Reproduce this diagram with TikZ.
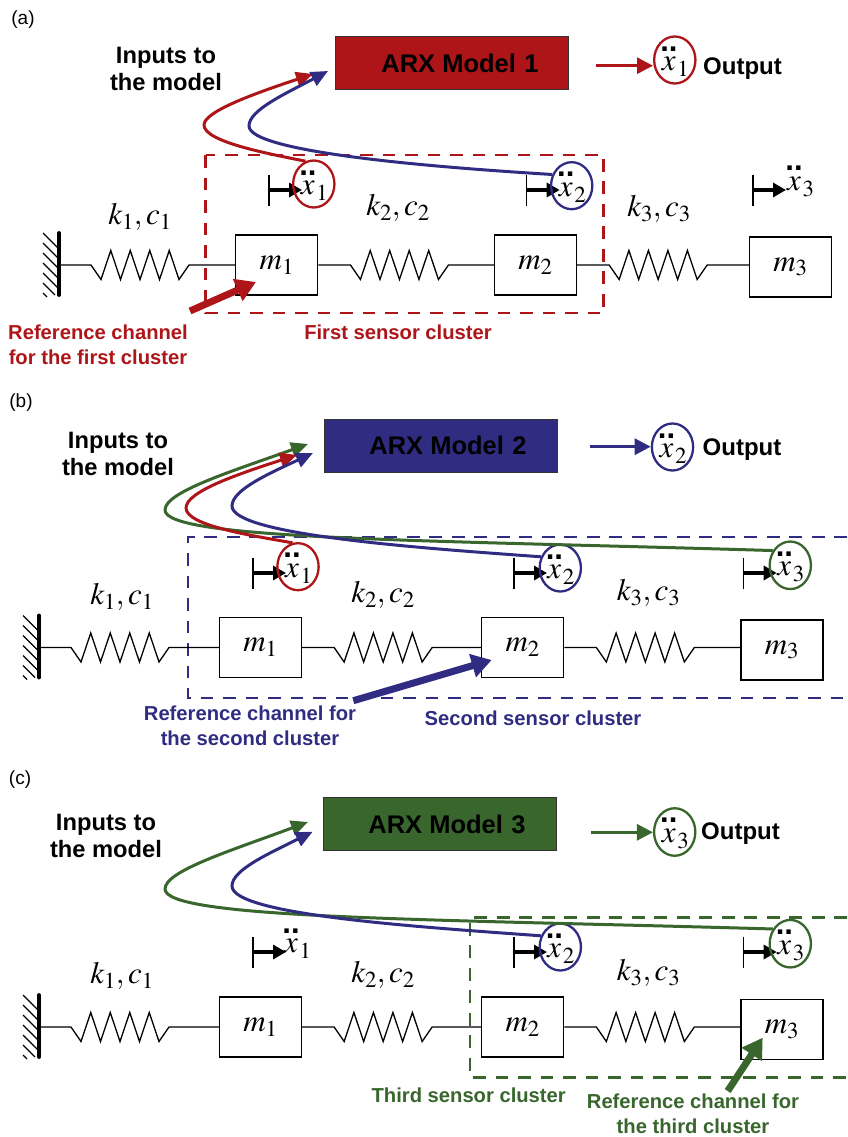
\documentclass[tikz,border=0pt]{standalone}
\usepackage{mathptmx}
\usepackage[no-math]{fontspec}
\setmainfont{Liberation Sans}
\usepackage{xcolor}
\usetikzlibrary{arrows.meta,positioning,shapes.geometric}
\definecolor{redm}{HTML}{AE1519}
\definecolor{bluem}{HTML}{302C82}
\definecolor{greenm}{HTML}{38662C}
\newcommand{\acc}[1]{$\stackrel{\textbf{..}}{x}_{#1}$}
\newcommand{\kc}[1]{$k_{#1}{,}\,c_{#1}$}
\newcommand{\fsz}[1]{\fontsize{#1}{#1}\selectfont}
\newcommand{\arxlabel}[2]{\hspace*{#1}\raisebox{-2pt}{ARX Model\,\,#2}}
\tikzset{
    massbox/.style={draw,line width=1.3pt,minimum width=82pt,minimum height=60pt,inner sep=0pt,font=\fsz{31}},
    modelbox/.style={draw=black!80,line width=1pt,minimum width=233pt,minimum height=53pt,inner sep=0pt,font=\bfseries\fsz{25.5}},
    inputs/.style={align=center,inner sep=0pt,font=\bfseries\fontsize{23.7}{27.5}\selectfont},
    outtext/.style={inner sep=0pt,font=\bfseries\fsz{24}},
    paneltag/.style={inner sep=0pt,font=\fsz{19}},
    reftext/.style={align=center,inner sep=0pt,font=\bfseries\fontsize{20.2}{25}\selectfont},
    sym/.style={font=\fsz{31},inner sep=0pt},
    sensor/.style={ellipse,draw,line width=2.3pt,minimum width=41pt,minimum height=47pt,inner sep=0pt,font=\fsz{31}},
    feed/.style={line width=3pt,-{Triangle[length=17pt,width=15pt]}},
    outarrow/.style={line width=3pt,-{Triangle[length=16pt,width=16pt]}},
    refarrow/.style={line width=7pt,-{Triangle[length=20pt,width=23pt]}},
    motion/.style={line width=3.6pt,-{Triangle[length=13pt,width=14pt]}},
    cluster/.style={line width=2.9pt,dash pattern=on 12.7pt off 9.8pt},
}
% wall, spring and displacement marks
\newcommand{\wallmark}[1]{
    \draw[line width=3.8pt,line cap=round] (#1) ++(0,-32) -- ++(0,62);
    \foreach \d/\l in {0/16,10/16,20/16,30/16,40/16,50/12,60/4}
        \draw[line width=1.1pt] (#1) ++(-16,-32+\d) -- ++(\l,\l);
}
\newcommand{\springlink}[2]{
    \draw[line width=1.3pt] (#1) -- ++(32,0) -- ++(10,14.5)
        \foreach \s in {-29,29,-29,29,-29,29,-29,29}{ -- ++(9.75,\s)}
        -- ++(10,-14.5) -- (#1 -| #2.west);
}
\newcommand{\dispmark}[1]{
    \draw[line width=1.2pt] (#1) ++(0,-15.5) -- ++(0,31);
    \draw[motion] (#1) -- ++(33,0);
}

\begin{document}
\begin{tikzpicture}[x=1pt,y=-1pt]
    \useasboundingbox (0,0) rectangle (847,1137);

    % Panel (a): first cluster
    \begin{scope}
    \node[paneltag] (taga) at (23,20) {(a)};
    \node[inputs] (inputsa) at (166,69) {Inputs to\\the model};
    \node[modelbox,fill=redm] (arxa) at (452,63) {\arxlabel{16pt}{1}};
    \node[sensor,draw=redm] (outa) at (674.8,60) {\acc{1}};
    \node[outtext] (outtexta) at (742.5,69) {Output};
    \coordinate (outsa) at (596,65.7);
    \draw[outarrow,redm] (outsa) -- (outsa -| outa.west);

    \draw[cluster,redm] (205.6,155) rectangle (603.7,313);

    \node[massbox] (m1a) at (276.8,265) {$m_1$};
    \node[massbox] (m2a) at (535.5,265) {$m_2$};
    \node[massbox] (m3a) at (790.5,267) {$m_3$};
    \coordinate (wa) at (59,265);
    \wallmark{wa}
    \springlink{wa}{m1a}
    \springlink{m1a.east}{m2a}
    \springlink{m2a.east}{m3a}
    \node[sym] (ka1) at (140,217) {\kc{1}};
    \node[sym] (ka2) at (398,208) {\kc{2}};
    \node[sym] (ka3) at (659,209) {\kc{3}};

    \coordinate (da1) at (269,190);
    \coordinate (da2) at (526.7,190);
    \coordinate (da3) at (753,190);
    \dispmark{da1}
    \dispmark{da2}
    \dispmark{da3}
    \node[sensor,draw=redm] (x1a) at (313.8,184) {\acc{1}};
    \node[sensor,draw=bluem] (x2a) at (571.7,185.7) {\acc{2}};
    \node[sym] (x3a) at (800,180) {\acc{3}};

    \coordinate (tipra) at (313,74);
    \coordinate (tipba) at (328,71);
    \draw[feed,redm] (x1a.110) .. controls (270,154) and (204,142) .. (204,125)
        .. controls (204,112) and (250,95) .. (tipra);
    \draw[feed,bluem] (x2a.150) .. controls (430,167) and (249,152) .. (249,126)
        .. controls (249,110) and (285,94) .. (tipba);

    \coordinate (refsa) at (190,311);
    \coordinate (reftipa) at (256,282);
    \draw[refarrow,redm] (refsa) -- (reftipa);
    \node[reftext,text=redm] (refa) at (98,345) {Reference channel\\for the first cluster};
    \node[reftext,text=redm] (clustera) at (398,332) {First sensor cluster};
    \end{scope}

    % Panel (b): second cluster
    \begin{scope}[yshift=-380pt]
    \node[paneltag] (tagb) at (21,23) {(b)};
    \node[inputs] (inputsb) at (118,74) {Inputs to\\the model};
    \node[modelbox,fill=bluem] (arxb) at (441,65.5) {\arxlabel{14pt}{2}};
    \node[sensor,draw=bluem] (outb) at (672.5,67) {\acc{2}};
    \node[outtext] (outtextb) at (742,70) {Output};
    \coordinate (outsb) at (590,66.7);
    \draw[outarrow,bluem] (outsb) -- (outsb -| outb.west);

    \draw[cluster,bluem] (847,157) -- (188,157) -- (188,318) -- (847,318);

    \node[massbox] (m1b) at (260.5,267.5) {$m_1$};
    \node[massbox] (m2b) at (522.7,267.5) {$m_2$};
    \node[massbox] (m3b) at (782,270) {$m_3$};
    \coordinate (wb) at (39,267.5);
    \wallmark{wb}
    \springlink{wb}{m1b}
    \springlink{m1b.east}{m2b}
    \springlink{m2b.east}{m3b}
    \node[sym] (kb1) at (122,217) {\kc{1}};
    \node[sym] (kb2) at (383,215) {\kc{2}};
    \node[sym] (kb3) at (648.7,213) {\kc{3}};

    \coordinate (db1) at (253,193);
    \coordinate (db2) at (514,193);
    \coordinate (db3) at (743.7,193);
    \dispmark{db1}
    \dispmark{db2}
    \dispmark{db3}
    \node[sensor,draw=redm] (x1b) at (298,186.7) {\acc{1}};
    \node[sensor,draw=bluem] (x2b) at (560.3,188) {\acc{2}};
    \node[sensor,draw=greenm] (x3b) at (790.3,185.3) {\acc{3}};

    \coordinate (tipgb) at (308,64);
    \coordinate (tiprb) at (297,75);
    \coordinate (tipbb) at (313,73);
    \draw[feed,greenm] (x3b.140) .. controls (430,160) and (165,160) .. (165,130)
        .. controls (165,112) and (230,92) .. (tipgb);
    \draw[feed,redm] (x1b.103) .. controls (255,156) and (186,146) .. (186,128)
        .. controls (186,112) and (235,95) .. (tiprb);
    \draw[feed,bluem] (x2b.150) .. controls (420,168) and (232,155) .. (232,126)
        .. controls (232,110) and (268,94) .. (tipbb);

    \coordinate (refsb) at (353.3,320.7);
    \coordinate (reftipb) at (491.7,280);
    \draw[refarrow,bluem] (refsb) -- (reftipb);
    \node[reftext,text=bluem] (refb) at (250,345.5) {Reference channel for\\the second cluster};
    \node[reftext,text=bluem] (clusterb) at (533,338) {Second sensor cluster};
    \end{scope}

    % Panel (c): third cluster
    \begin{scope}[yshift=-760pt]
    \node[paneltag] (tagc) at (20,20) {(c)};
    \node[inputs] (inputsc) at (106,76) {Inputs to\\the model};
    \node[modelbox,fill=greenm] (arxc) at (439.7,64.3) {\arxlabel{14.6pt}{3}};
    \node[sensor,draw=greenm] (outc) at (674.7,72) {\acc{3}};
    \node[outtext] (outtextc) at (740.5,74) {Output};
    \coordinate (outsc) at (591,72.3);
    \draw[outarrow,greenm] (outsc) -- (outsc -| outc.west);

    \draw[cluster,greenm] (847,157.3) -- (470,157.3) -- (470,317.3) -- (847,317.3);

    \node[massbox] (m1c) at (260.5,267) {$m_1$};
    \node[massbox] (m2c) at (522.7,267) {$m_2$};
    \node[massbox] (m3c) at (782,269.5) {$m_3$};
    \coordinate (wc) at (39,267);
    \wallmark{wc}
    \springlink{wc}{m1c}
    \springlink{m1c.east}{m2c}
    \springlink{m2c.east}{m3c}
    \node[sym] (kc1) at (122,216) {\kc{1}};
    \node[sym] (kc2) at (383,215) {\kc{2}};
    \node[sym] (kc3) at (648.7,213) {\kc{3}};

    \coordinate (dc1) at (253,192);
    \coordinate (dc2) at (514,192);
    \coordinate (dc3) at (743.7,192);
    \dispmark{dc1}
    \dispmark{dc2}
    \dispmark{dc3}
    \node[sym] (x1c) at (297,182) {\acc{1}};
    \node[sensor,draw=bluem] (x2c) at (560.3,187) {\acc{2}};
    \node[sensor,draw=greenm] (x3c) at (790.3,183.7) {\acc{3}};

    \coordinate (tipgc) at (308,62);
    \coordinate (tipbc) at (312.7,71.7);
    \draw[feed,greenm] (x3c.140) .. controls (430,159) and (165,159) .. (165,129)
        .. controls (165,111) and (230,91) .. (tipgc);
    \draw[feed,bluem] (x2c.150) .. controls (420,167) and (232,155) .. (232,126)
        .. controls (232,110) and (268,94) .. (tipbc);

    \coordinate (refsc) at (727.7,331);
    \coordinate (reftipc) at (762.7,277.7);
    \draw[refarrow,greenm] (refsc) -- (reftipc);
    \node[reftext,text=greenm] (clusterc) at (468.7,335) {Third sensor cluster};
    \node[reftext,text=greenm] (refc) at (693,354) {Reference channel for\\the third cluster};
    \end{scope}
\end{tikzpicture}
\end{document}
